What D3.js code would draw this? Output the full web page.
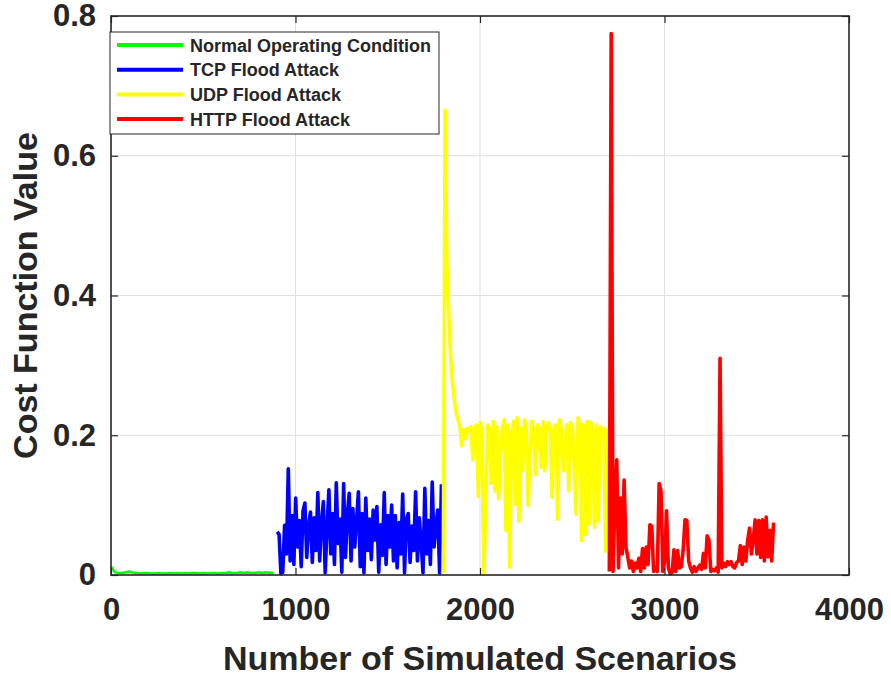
<!DOCTYPE html>
<html>
<head>
<meta charset="utf-8">
<script src="https://cdn.jsdelivr.net/npm/d3@7"></script>
<style>
  html, body { margin: 0; padding: 0; background: #fff; }
  svg text { font-family: 'Liberation Sans', Arial, Helvetica, sans-serif; font-weight: bold; fill: #262626; }
</style>
</head>
<body>
<div id="chart"></div>
<script>
// Cost function value per simulated scenario, four blocks of 900 scenarios
const seriesNames = ['Normal Operating Condition', 'TCP Flood Attack', 'UDP Flood Attack', 'HTTP Flood Attack'];
const seriesColors = ['#00ff00', '#0000ff', '#ffff00', '#ff0000'];
const seriesStart = [1, 901, 1801, 2701];
const seriesStep = [20, 10, 10, 10];

const normalVals = [0.012, 0.004, 0.003, 0.003, 0.004, 0.005, 0.003, 0.003, 0.002, 0.003,
  0.003, 0.002, 0.002, 0.003, 0.002, 0.002, 0.003, 0.002, 0.003, 0.002,
  0.003, 0.002, 0.003, 0.003, 0.002, 0.003, 0.002, 0.003, 0.003, 0.002,
  0.003, 0.003, 0.004, 0.003, 0.003, 0.004, 0.003, 0.004, 0.003, 0.003,
  0.004, 0.003, 0.004, 0.003, 0.003];

const tcpVals = [0.062, 0.058, 0.002, 0.004, 0.071, 0.030, 0.152, 0.020, 0.085, 0.015,
  0.110, 0.040, 0.078, 0.012, 0.092, 0.103, 0.025, 0.070, 0.090, 0.018,
  0.082, 0.035, 0.118, 0.020, 0.075, 0.105, 0.003, 0.068, 0.122, 0.030,
  0.088, 0.015, 0.132, 0.045, 0.080, 0.004, 0.131, 0.025, 0.085, 0.117,
  0.020, 0.095, 0.040, 0.078, 0.119, 0.012, 0.088, 0.003, 0.110, 0.035,
  0.080, 0.022, 0.093, 0.050, 0.098, 0.004, 0.072, 0.028, 0.118, 0.015,
  0.085, 0.040, 0.100, 0.020, 0.085, 0.010, 0.075, 0.030, 0.116, 0.003,
  0.080, 0.088, 0.018, 0.070, 0.035, 0.119, 0.020, 0.082, 0.045, 0.003,
  0.124, 0.030, 0.078, 0.015, 0.133, 0.040, 0.070, 0.093, 0.003, 0.130];

const udpVals = [0.003, 0.665, 0.440, 0.370, 0.310, 0.275, 0.250, 0.232, 0.222, 0.212,
  0.185, 0.208, 0.195, 0.210, 0.205, 0.212, 0.165, 0.210, 0.215, 0.112,
  0.218, 0.205, 0.002, 0.093, 0.215, 0.210, 0.131, 0.220, 0.120, 0.212,
  0.109, 0.173, 0.210, 0.222, 0.063, 0.215, 0.011, 0.200, 0.220, 0.101,
  0.225, 0.077, 0.210, 0.149, 0.222, 0.215, 0.099, 0.168, 0.220, 0.205,
  0.144, 0.215, 0.210, 0.154, 0.220, 0.149, 0.212, 0.218, 0.205, 0.111,
  0.210, 0.215, 0.080, 0.222, 0.210, 0.149, 0.187, 0.215, 0.120, 0.218,
  0.210, 0.158, 0.087, 0.225, 0.212, 0.049, 0.215, 0.058, 0.220, 0.073,
  0.218, 0.210, 0.068, 0.215, 0.077, 0.212, 0.205, 0.210, 0.034, 0.210];

const httpVals = [0.005, 0.775, 0.005, 0.103, 0.165, 0.010, 0.110, 0.030, 0.136, 0.040,
  0.026, 0.010, 0.020, 0.005, 0.017, 0.010, 0.024, 0.005, 0.038, 0.010,
  0.040, 0.015, 0.072, 0.070, 0.005, 0.012, 0.005, 0.131, 0.120, 0.005,
  0.020, 0.092, 0.010, 0.002, 0.003, 0.036, 0.005, 0.035, 0.010, 0.012,
  0.035, 0.079, 0.078, 0.020, 0.010, 0.004, 0.012, 0.005, 0.010, 0.014,
  0.008, 0.031, 0.010, 0.056, 0.050, 0.005, 0.008, 0.006, 0.010, 0.004,
  0.310, 0.010, 0.017, 0.012, 0.019, 0.015, 0.019, 0.012, 0.010, 0.018,
  0.020, 0.042, 0.015, 0.040, 0.020, 0.050, 0.067, 0.030, 0.050, 0.079,
  0.030, 0.078, 0.025, 0.079, 0.020, 0.083, 0.026, 0.064, 0.020, 0.075];

const seriesVals = [normalVals, tcpVals, udpVals, httpVals];
const seriesWidth = [2.5, 3.6, 3.6, 3.6];

const xTicks = [0, 1000, 2000, 3000, 4000];
const xTickLabels = ['0', '1000', '2000', '3000', '4000'];
const yTicks = [0, 0.2, 0.4, 0.6, 0.8];
const yTickLabels = ['0', '0.2', '0.4', '0.6', '0.8'];

const W = 891, H = 676;
const m = { left: 111, right: 42, top: 16, bottom: 101 };
const axisColor = '#262626';

const svg = d3.select('#chart').append('svg').attr('width', W).attr('height', H);

const x = d3.scaleLinear().domain([0, 4000]).range([m.left, W - m.right]);
const y = d3.scaleLinear().domain([0, 0.8]).range([H - m.bottom, m.top]);

// grid
svg.append('g').selectAll('line').data(xTicks.slice(1, -1)).join('line')
  .attr('x1', d => x(d)).attr('x2', d => x(d)).attr('y1', y(0)).attr('y2', y(0.8))
  .attr('stroke', '#dfdfdf').attr('stroke-width', 1);
svg.append('g').selectAll('line').data(yTicks.slice(1, -1)).join('line')
  .attr('y1', d => y(d)).attr('y2', d => y(d)).attr('x1', x(0)).attr('x2', x(4000))
  .attr('stroke', '#dfdfdf').attr('stroke-width', 1);

// series
const line = d3.line().x(d => x(d[0])).y(d => y(d[1]));
seriesVals.forEach((vals, k) => {
  const pts = vals.map((v, i) => [seriesStart[k] + i * seriesStep[k], v]);
  svg.append('path').datum(pts)
    .attr('d', line)
    .attr('fill', 'none')
    .attr('stroke', seriesColors[k])
    .attr('stroke-width', seriesWidth[k])
    .attr('stroke-linejoin', 'round');
});

// axes (ticks pointing inward, MATLAB style)
function styleAxis(g) {
  g.select('.domain').remove();
  g.selectAll('.tick line').attr('stroke', axisColor).attr('stroke-width', 1.2);
  g.selectAll('.tick text').attr('fill', axisColor).style('font-size', '31px');
}
svg.append('g').attr('transform', `translate(0,${y(0)})`)
  .call(d3.axisBottom(x).tickValues(xTicks).tickFormat((d, i) => xTickLabels[i])
    .tickSizeInner(-7).tickSizeOuter(0).tickPadding(23))
  .call(styleAxis);
svg.append('g').attr('transform', `translate(${x(0)},0)`)
  .call(d3.axisLeft(y).tickValues(yTicks).tickFormat((d, i) => yTickLabels[i])
    .tickSizeInner(-7).tickSizeOuter(0).tickPadding(15))
  .call(styleAxis);
svg.append('g').attr('transform', `translate(0,${y(0.8)})`)
  .call(d3.axisTop(x).tickValues(xTicks).tickFormat('').tickSizeInner(-7).tickSizeOuter(0))
  .call(styleAxis);
svg.append('g').attr('transform', `translate(${x(4000)},0)`)
  .call(d3.axisRight(y).tickValues(yTicks).tickFormat('').tickSizeInner(-7).tickSizeOuter(0))
  .call(styleAxis);

svg.append('rect')
  .attr('x', x(0)).attr('y', y(0.8))
  .attr('width', x(4000) - x(0)).attr('height', y(0) - y(0.8))
  .attr('fill', 'none').attr('stroke', axisColor).attr('stroke-width', 1.6);

// axis titles
svg.append('text')
  .attr('x', (x(0) + x(4000)) / 2).attr('y', 670)
  .attr('text-anchor', 'middle').style('font-size', '34px')
  .text('Number of Simulated Scenarios');
svg.append('text')
  .attr('transform', `translate(37,${(y(0) + y(0.8)) / 2}) rotate(-90)`)
  .attr('text-anchor', 'middle').style('font-size', '34px')
  .text('Cost Function Value');

// legend
const lg = svg.append('g').attr('transform', 'translate(110,32)');
lg.append('rect').attr('width', 329).attr('height', 102)
  .attr('fill', '#fff').attr('stroke', axisColor).attr('stroke-width', 1);
seriesNames.forEach((name, k) => {
  const ly = 13 + k * 24.7;
  lg.append('line').attr('x1', 7).attr('x2', 73).attr('y1', ly).attr('y2', ly)
    .attr('stroke', seriesColors[k]).attr('stroke-width', 4);
  lg.append('text').attr('x', 80).attr('y', ly + 6.5)
    .style('font-size', '18px').text(name);
});
</script>
</body>
</html>
